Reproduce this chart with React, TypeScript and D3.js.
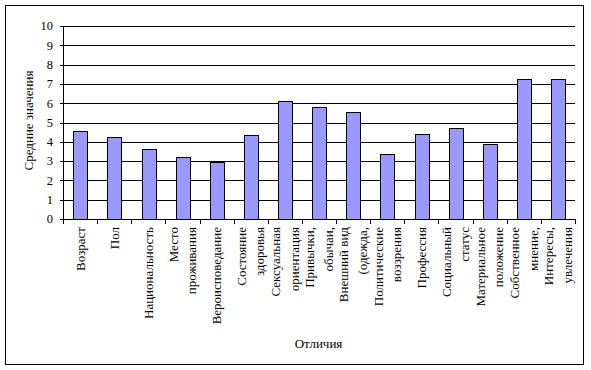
import React from "react";
import * as d3 from "d3";

const categories: string[][] = [
  ["Возраст"],
  ["Пол"],
  ["Национальность"],
  ["Место", "проживания"],
  ["Вероисповедание"],
  ["Состояние", "здоровья"],
  ["Сексуальная", "ориентация"],
  ["Привычки,", "обычаи,"],
  ["Внешний вид", "(одежда,"],
  ["Политические", "воззрения"],
  ["Профессия"],
  ["Социальный", "статус"],
  ["Материальное", "положение"],
  ["Собственное", "мнение,"],
  ["Интересы,", "увлечения"],
];
const values: number[] = [4.57, 4.27, 3.63, 3.22, 2.94, 4.36, 6.13, 5.8, 5.54, 3.37, 4.41, 4.72, 3.9, 7.25, 7.25];
const yTicks: number[] = [0, 1, 2, 3, 4, 5, 6, 7, 8, 9, 10];
const yTitle = "Средние значения";
const xTitle = "Отличия";

const W = 591;
const H = 370;
const plot = { left: 63, right: 575, top: 26, bottom: 219 };
const FONT = "'Liberation Serif', 'Times New Roman', serif";

export default function App() {
  const idx = categories.map((_, i) => String(i));
  const x = d3.scaleBand<string>().domain(idx).range([plot.left, plot.right]).paddingInner(0.6).paddingOuter(0.3);
  const xb = d3.scaleBand<string>().domain(idx).range([plot.left, plot.right]);
  const y = d3.scaleLinear().domain([0, 10]).range([plot.bottom, plot.top]);
  const lineGap = 18.5;
  const boundaries = d3.range(categories.length + 1).map((i) => plot.left + i * xb.step());

  return (
    <svg width={W} height={H} style={{ position: "absolute", left: 0, top: 0 }} fontFamily={FONT}>
      <rect x={0} y={0} width={W} height={H} fill="#fff" />
      <rect x={5.5} y={5.5} width={578} height={359} fill="none" stroke="#000" strokeWidth={1} />
      {yTicks.map((t) => (
        <g key={t}>
          {t > 0 && (
            <line x1={plot.left} x2={plot.right} y1={Math.round(y(t)) + 0.5} y2={Math.round(y(t)) + 0.5} stroke="#000" strokeWidth={1} />
          )}
          <line x1={plot.left - 3} x2={plot.left} y1={Math.round(y(t)) + 0.5} y2={Math.round(y(t)) + 0.5} stroke="#000" />
          <text x={53} y={y(t)} dy="0.35em" textAnchor="end" fontSize={12.5} fill="#000">
            {t}
          </text>
        </g>
      ))}
      {values.map((v, i) => {
        const x0 = Math.round(x(String(i))!) + 0.5;
        const w = Math.round(x.bandwidth());
        const top = Math.round(y(v)) + 0.5;
        return (
          <rect key={i} x={x0} y={top} width={w} height={plot.bottom - top + 0.5} fill="#9999FF" stroke="#000" strokeWidth={1} />
        );
      })}
      <line x1={plot.left + 0.5} x2={plot.left + 0.5} y1={plot.top} y2={plot.bottom} stroke="#000" />
      <line x1={plot.left} x2={plot.right + 1} y1={plot.bottom + 0.5} y2={plot.bottom + 0.5} stroke="#000" />
      {boundaries.map((b, i) => (
        <line key={i} x1={Math.round(b) + 0.5} x2={Math.round(b) + 0.5} y1={plot.bottom} y2={plot.bottom + 5} stroke="#000" />
      ))}
      {categories.map((lines, i) => {
        const cx = xb(String(i))! + xb.bandwidth() / 2;
        const n = lines.length;
        return lines.map((ln, j) => {
          const lx = cx + (j - (n - 1) / 2) * lineGap;
          return (
            <text
              key={i + "-" + j}
              transform={`translate(${lx},227) rotate(-90)`}
              textAnchor="end"
              dominantBaseline="central"
              fontSize={13}
              fill="#000"
            >
              {ln}
            </text>
          );
        });
      })}
      <text transform={`translate(28,${(plot.top + plot.bottom) / 2 - 2}) rotate(-90)`} textAnchor="middle" dominantBaseline="central" fontSize={13} fill="#000">
        {yTitle}
      </text>
      <text x={318.5} y={343} textAnchor="middle" dominantBaseline="central" fontSize={13} fill="#000">
        {xTitle}
      </text>
    </svg>
  );
}
